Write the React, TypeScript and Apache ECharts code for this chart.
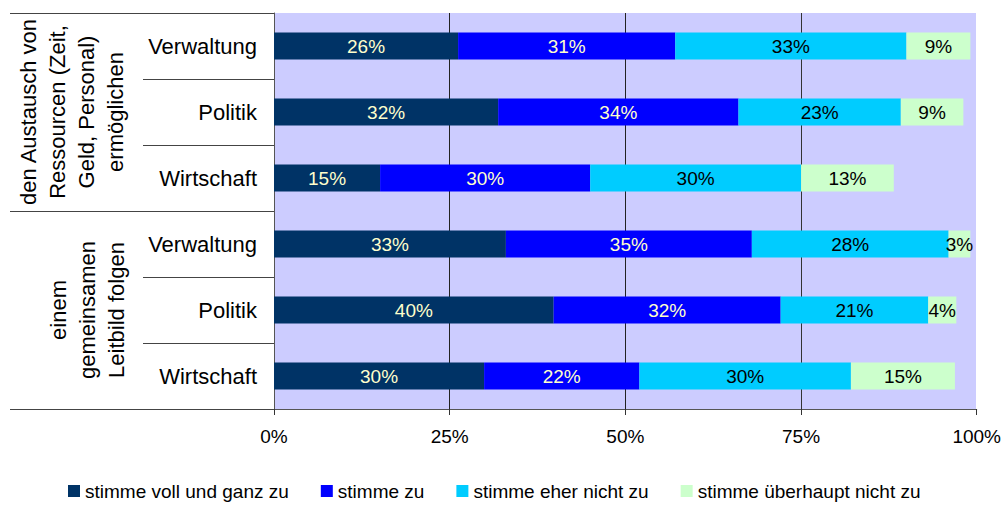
import React, { useEffect, useRef } from "react";
import * as echarts from "echarts";

// ---- data ----
const GROUP_LABELS = [
  "den Austausch von\nRessourcen (Zeit,\nGeld, Personal)\nermöglichen",
  "einem\ngemeinsamen\nLeitbild folgen",
];
const SUBCATEGORIES = ["Verwaltung", "Politik", "Wirtschaft"];
const ROW_LABELS = [...SUBCATEGORIES, ...SUBCATEGORIES];
const ROW_KEYS = ROW_LABELS.map((l, i) => `${i}-${l}`);

const SERIES_NAMES = [
  "stimme voll und ganz zu",
  "stimme zu",
  "stimme eher nicht zu",
  "stimme überhaupt nicht zu",
];
const VOLL_UND_GANZ = [26.2, 31.9, 15.1, 33.0, 39.8, 29.9];
const ZU = [30.9, 34.2, 29.9, 35.0, 32.3, 22.1];
const EHER_NICHT = [32.9, 23.1, 30.0, 28.0, 21.0, 30.1];
const UEBERHAUPT_NICHT = [9.1, 8.9, 13.2, 3.1, 4.0, 14.8];
const SERIES_VALUES = [VOLL_UND_GANZ, ZU, EHER_NICHT, UEBERHAUPT_NICHT];
const X_TICKS = [0, 25, 50, 75, 100];

// ---- styles ----
const COLORS = ["#003366", "#0000FF", "#00CCFF", "#CCFFCC"];
const LABEL_COLORS = ["#FFFFCC", "#FFFFCC", "#000000", "#000000"];
const FONT = "Liberation Sans";
const GRID_LEFT = 274;
const GRID_TOP = 13;
const GRID_W = 705;
const GRID_H = 396;

export default function App() {
  const ref = useRef<HTMLDivElement>(null);

  useEffect(() => {
    if (!ref.current) return;
    const chart = echarts.init(ref.current, null, { renderer: "svg" });
    const band = GRID_H / ROW_KEYS.length;
    const lineColor = "#444";

    const tableLines: any[] = [];
    for (let k = 0; k <= ROW_KEYS.length; k++) {
      const y = Math.round(GRID_TOP + k * band) + 0.5;
      const major = k % SUBCATEGORIES.length === 0;
      tableLines.push({
        type: "line",
        shape: { x1: major ? 10 : 143, y1: y, x2: GRID_LEFT, y2: y },
        style: { stroke: lineColor, lineWidth: 1 },
        silent: true,
      });
    }
    const groupCenters = [
      { x: 72, y: GRID_TOP + band * 1.5 },
      { x: 87, y: GRID_TOP + band * 4.5 },
    ];
    const groupTexts = GROUP_LABELS.map((t, i) => ({
      type: "text",
      x: groupCenters[i].x,
      y: groupCenters[i].y,
      rotation: Math.PI / 2,
      style: {
        text: t,
        fill: "#000",
        font: `22px '${FONT}'`,
        align: "center",
        verticalAlign: "middle",
        lineHeight: 29,
      },
      silent: true,
    }));

    chart.setOption({
      animation: false,
      backgroundColor: "#ffffff",
      textStyle: { fontFamily: FONT },
      grid: {
        left: GRID_LEFT,
        top: GRID_TOP,
        width: GRID_W,
        height: GRID_H,
        show: true,
        backgroundColor: "#CCCCFF",
        borderWidth: 0,
      },
      legend: {
        left: 68,
        top: 481,
        padding: 0,
        itemWidth: 12,
        itemHeight: 12,
        itemGap: 32,
        icon: "rect",
        textStyle: { fontSize: 19, lineHeight: 20, color: "#000", fontFamily: FONT },
        data: SERIES_NAMES,
      },
      xAxis: {
        type: "value",
        min: 0,
        max: 100,
        interval: 25,
        axisLine: { show: true, lineStyle: { color: "#555", width: 1 } },
        axisTick: { show: true, length: 6, lineStyle: { color: "#333" } },
        axisLabel: {
          fontSize: 19,
          color: "#000",
          margin: 18,
          fontFamily: FONT,
          formatter: (v: number) => (X_TICKS.includes(v) ? `${v}%` : ""),
        },
        splitLine: {
          show: true,
          lineStyle: {
            color: ["transparent", "#222", "#222", "#333", "#ffffff"],
            width: 1,
          },
        },
      },
      yAxis: {
        type: "category",
        inverse: true,
        data: ROW_KEYS,
        axisLine: { show: true, lineStyle: { color: "#555", width: 1 } },
        axisTick: { show: false },
        axisLabel: {
          fontSize: 22,
          color: "#000",
          margin: 17,
          fontFamily: FONT,
          formatter: (_v: string, i: number) => ROW_LABELS[i],
        },
      },
      series: SERIES_NAMES.map((name, si) => ({
        name,
        type: "bar",
        stack: "total",
        barWidth: 27,
        data: SERIES_VALUES[si],
        itemStyle: { color: COLORS[si] },
        label: {
          show: true,
          position: "inside",
          color: LABEL_COLORS[si],
          fontSize: 19,
          fontFamily: FONT,
          formatter: (p: any) => `${Math.round(p.value)}%`,
        },
      })),
      graphic: [...tableLines, ...groupTexts],
    });

    return () => chart.dispose();
  }, []);

  return (
    <div
      ref={ref}
      style={{ position: "fixed", left: 0, top: 0, width: 1004, height: 507 }}
    />
  );
}
